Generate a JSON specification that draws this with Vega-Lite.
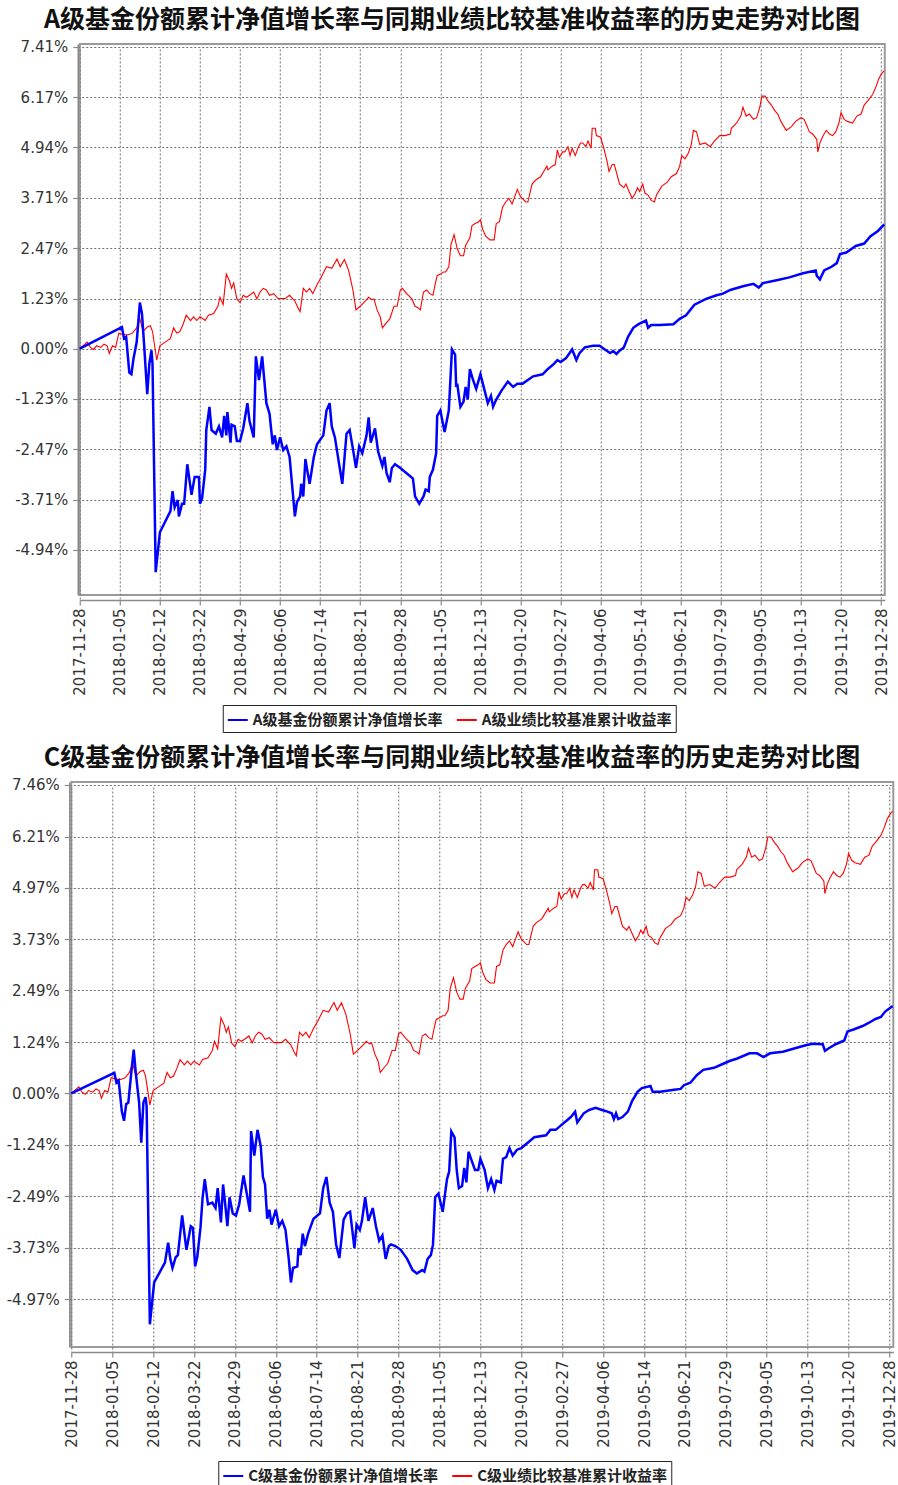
{
"$schema": "https://vega.github.io/schema/vega-lite/v6.json",
"background": "white",
"padding": {"left": 5, "top": 6, "right": 0, "bottom": 0},
"spacing": 10,
"center": true,
"datasets": {
"bench": [
{"d":"2017-11-28","v":0.00},{"d":"2017-12-02","v":0.09},{"d":"2017-12-05","v":0.16},{"d":"2017-12-08","v":0.03},{"d":"2017-12-11","v":-0.02},{"d":"2017-12-14","v":0.07},{"d":"2017-12-18","v":0.03},{"d":"2017-12-21","v":0.11},{"d":"2017-12-24","v":0.07},{"d":"2017-12-26","v":-0.12},{"d":"2017-12-29","v":0.07},{"d":"2018-01-01","v":0.03},{"d":"2018-01-04","v":0.38},{"d":"2018-01-09","v":0.34},{"d":"2018-01-13","v":0.34},{"d":"2018-01-17","v":0.38},{"d":"2018-01-21","v":0.51},{"d":"2018-01-24","v":0.73},{"d":"2018-01-27","v":0.42},{"d":"2018-01-31","v":0.53},{"d":"2018-02-03","v":0.56},{"d":"2018-02-05","v":0.42},{"d":"2018-02-09","v":-0.28},{"d":"2018-02-12","v":0.07},{"d":"2018-02-17","v":0.16},{"d":"2018-02-22","v":0.25},{"d":"2018-02-25","v":0.51},{"d":"2018-02-28","v":0.38},{"d":"2018-03-03","v":0.42},{"d":"2018-03-06","v":0.60},{"d":"2018-03-09","v":0.82},{"d":"2018-03-13","v":0.69},{"d":"2018-03-16","v":0.78},{"d":"2018-03-19","v":0.69},{"d":"2018-03-22","v":0.78},{"d":"2018-03-27","v":0.69},{"d":"2018-03-30","v":0.82},{"d":"2018-04-04","v":0.86},{"d":"2018-04-08","v":1.04},{"d":"2018-04-10","v":1.26},{"d":"2018-04-13","v":1.08},{"d":"2018-04-16","v":1.83},{"d":"2018-04-19","v":1.66},{"d":"2018-04-21","v":1.48},{"d":"2018-04-23","v":1.61},{"d":"2018-04-26","v":1.22},{"d":"2018-04-29","v":1.13},{"d":"2018-05-02","v":1.31},{"d":"2018-05-05","v":1.26},{"d":"2018-05-08","v":1.31},{"d":"2018-05-12","v":1.39},{"d":"2018-05-15","v":1.22},{"d":"2018-05-18","v":1.39},{"d":"2018-05-21","v":1.48},{"d":"2018-05-24","v":1.44},{"d":"2018-05-27","v":1.31},{"d":"2018-05-31","v":1.35},{"d":"2018-06-04","v":1.23},{"d":"2018-06-11","v":1.23},{"d":"2018-06-15","v":1.31},{"d":"2018-06-20","v":1.17},{"d":"2018-06-23","v":1.00},{"d":"2018-06-25","v":0.91},{"d":"2018-06-28","v":1.48},{"d":"2018-07-01","v":1.39},{"d":"2018-07-04","v":1.48},{"d":"2018-07-07","v":1.35},{"d":"2018-07-11","v":1.57},{"d":"2018-07-15","v":1.75},{"d":"2018-07-20","v":2.01},{"d":"2018-07-25","v":1.97},{"d":"2018-07-30","v":2.20},{"d":"2018-08-02","v":2.01},{"d":"2018-08-06","v":2.19},{"d":"2018-08-10","v":1.92},{"d":"2018-08-14","v":1.45},{"d":"2018-08-17","v":0.95},{"d":"2018-08-21","v":1.04},{"d":"2018-08-26","v":1.17},{"d":"2018-08-29","v":1.26},{"d":"2018-09-01","v":1.20},{"d":"2018-09-03","v":1.22},{"d":"2018-09-06","v":0.95},{"d":"2018-09-09","v":0.78},{"d":"2018-09-11","v":0.51},{"d":"2018-09-15","v":0.64},{"d":"2018-09-18","v":0.73},{"d":"2018-09-22","v":1.04},{"d":"2018-09-25","v":1.04},{"d":"2018-09-28","v":1.44},{"d":"2018-09-30","v":1.48},{"d":"2018-10-04","v":1.35},{"d":"2018-10-09","v":1.22},{"d":"2018-10-12","v":1.04},{"d":"2018-10-15","v":1.00},{"d":"2018-10-17","v":0.95},{"d":"2018-10-20","v":1.39},{"d":"2018-10-23","v":1.44},{"d":"2018-10-26","v":1.35},{"d":"2018-10-29","v":1.31},{"d":"2018-10-31","v":1.57},{"d":"2018-11-02","v":1.79},{"d":"2018-11-05","v":1.83},{"d":"2018-11-08","v":1.88},{"d":"2018-11-10","v":1.88},{"d":"2018-11-13","v":2.01},{"d":"2018-11-15","v":2.54},{"d":"2018-11-18","v":2.80},{"d":"2018-11-21","v":2.45},{"d":"2018-11-24","v":2.28},{"d":"2018-11-27","v":2.28},{"d":"2018-11-29","v":2.54},{"d":"2018-12-03","v":2.72},{"d":"2018-12-05","v":3.02},{"d":"2018-12-08","v":3.07},{"d":"2018-12-11","v":3.11},{"d":"2018-12-13","v":3.16},{"d":"2018-12-15","v":2.94},{"d":"2018-12-18","v":2.76},{"d":"2018-12-22","v":2.67},{"d":"2018-12-26","v":2.67},{"d":"2018-12-28","v":3.07},{"d":"2018-12-31","v":3.11},{"d":"2019-01-03","v":3.47},{"d":"2019-01-06","v":3.60},{"d":"2019-01-09","v":3.69},{"d":"2019-01-12","v":3.55},{"d":"2019-01-14","v":3.69},{"d":"2019-01-17","v":3.91},{"d":"2019-01-20","v":3.73},{"d":"2019-01-25","v":3.60},{"d":"2019-01-27","v":3.60},{"d":"2019-01-31","v":4.04},{"d":"2019-02-03","v":4.13},{"d":"2019-02-08","v":4.22},{"d":"2019-02-12","v":4.39},{"d":"2019-02-14","v":4.48},{"d":"2019-02-15","v":4.39},{"d":"2019-02-19","v":4.48},{"d":"2019-02-22","v":4.52},{"d":"2019-02-24","v":4.88},{"d":"2019-02-26","v":4.70},{"d":"2019-03-01","v":4.83},{"d":"2019-03-03","v":4.83},{"d":"2019-03-06","v":4.96},{"d":"2019-03-08","v":4.74},{"d":"2019-03-10","v":4.92},{"d":"2019-03-13","v":4.74},{"d":"2019-03-16","v":4.96},{"d":"2019-03-18","v":5.05},{"d":"2019-03-20","v":5.05},{"d":"2019-03-23","v":4.96},{"d":"2019-03-25","v":5.10},{"d":"2019-03-28","v":4.92},{"d":"2019-03-29","v":5.41},{"d":"2019-04-01","v":5.41},{"d":"2019-04-02","v":5.23},{"d":"2019-04-06","v":5.19},{"d":"2019-04-09","v":4.92},{"d":"2019-04-12","v":4.61},{"d":"2019-04-14","v":4.35},{"d":"2019-04-17","v":4.52},{"d":"2019-04-19","v":4.52},{"d":"2019-04-24","v":4.04},{"d":"2019-04-28","v":3.95},{"d":"2019-04-30","v":4.04},{"d":"2019-05-03","v":3.86},{"d":"2019-05-06","v":3.69},{"d":"2019-05-09","v":3.82},{"d":"2019-05-11","v":3.95},{"d":"2019-05-13","v":3.86},{"d":"2019-05-16","v":4.04},{"d":"2019-05-18","v":3.82},{"d":"2019-05-21","v":3.77},{"d":"2019-05-24","v":3.64},{"d":"2019-05-27","v":3.60},{"d":"2019-05-29","v":3.77},{"d":"2019-06-03","v":3.99},{"d":"2019-06-08","v":4.08},{"d":"2019-06-12","v":4.22},{"d":"2019-06-17","v":4.30},{"d":"2019-06-20","v":4.48},{"d":"2019-06-22","v":4.74},{"d":"2019-06-25","v":4.66},{"d":"2019-06-28","v":4.79},{"d":"2019-07-01","v":5.01},{"d":"2019-07-03","v":5.36},{"d":"2019-07-06","v":5.32},{"d":"2019-07-09","v":5.01},{"d":"2019-07-14","v":5.05},{"d":"2019-07-19","v":4.96},{"d":"2019-07-23","v":5.10},{"d":"2019-07-28","v":5.23},{"d":"2019-08-02","v":5.23},{"d":"2019-08-07","v":5.27},{"d":"2019-08-08","v":5.41},{"d":"2019-08-13","v":5.54},{"d":"2019-08-17","v":5.71},{"d":"2019-08-19","v":5.93},{"d":"2019-08-22","v":5.71},{"d":"2019-08-25","v":5.76},{"d":"2019-08-29","v":5.63},{"d":"2019-09-01","v":5.67},{"d":"2019-09-04","v":5.93},{"d":"2019-09-06","v":6.20},{"d":"2019-09-09","v":6.20},{"d":"2019-09-12","v":6.07},{"d":"2019-09-15","v":5.98},{"d":"2019-09-18","v":5.85},{"d":"2019-09-21","v":5.76},{"d":"2019-09-24","v":5.58},{"d":"2019-09-29","v":5.36},{"d":"2019-10-04","v":5.45},{"d":"2019-10-08","v":5.58},{"d":"2019-10-13","v":5.67},{"d":"2019-10-16","v":5.63},{"d":"2019-10-19","v":5.45},{"d":"2019-10-21","v":5.32},{"d":"2019-10-24","v":5.27},{"d":"2019-10-28","v":5.14},{"d":"2019-10-29","v":4.83},{"d":"2019-10-31","v":5.05},{"d":"2019-11-03","v":5.23},{"d":"2019-11-06","v":5.36},{"d":"2019-11-09","v":5.27},{"d":"2019-11-12","v":5.23},{"d":"2019-11-15","v":5.32},{"d":"2019-11-18","v":5.54},{"d":"2019-11-20","v":5.80},{"d":"2019-11-23","v":5.63},{"d":"2019-11-26","v":5.58},{"d":"2019-12-01","v":5.54},{"d":"2019-12-05","v":5.71},{"d":"2019-12-09","v":5.76},{"d":"2019-12-12","v":5.98},{"d":"2019-12-15","v":6.07},{"d":"2019-12-20","v":6.24},{"d":"2019-12-23","v":6.42},{"d":"2019-12-26","v":6.64},{"d":"2019-12-29","v":6.77},{"d":"2019-12-31","v":6.82}
],
"a": [
{"d":"2017-11-28","v":0.00},{"d":"2018-01-07","v":0.53},{"d":"2018-01-09","v":0.25},{"d":"2018-01-11","v":0.29},{"d":"2018-01-14","v":-0.59},{"d":"2018-01-16","v":-0.63},{"d":"2018-01-18","v":-0.24},{"d":"2018-01-21","v":0.16},{"d":"2018-01-24","v":1.13},{"d":"2018-01-26","v":0.86},{"d":"2018-01-28","v":0.11},{"d":"2018-01-31","v":-1.12},{"d":"2018-02-02","v":-0.37},{"d":"2018-02-04","v":-0.04},{"d":"2018-02-05","v":-0.37},{"d":"2018-02-08","v":-5.49},{"d":"2018-02-12","v":-4.51},{"d":"2018-02-22","v":-3.99},{"d":"2018-02-24","v":-3.50},{"d":"2018-02-26","v":-3.90},{"d":"2018-03-01","v":-3.72},{"d":"2018-03-02","v":-4.12},{"d":"2018-03-05","v":-3.81},{"d":"2018-03-07","v":-3.81},{"d":"2018-03-10","v":-2.84},{"d":"2018-03-14","v":-3.59},{"d":"2018-03-17","v":-3.15},{"d":"2018-03-21","v":-3.15},{"d":"2018-03-22","v":-3.81},{"d":"2018-03-24","v":-3.68},{"d":"2018-03-27","v":-2.97},{"d":"2018-03-28","v":-2.00},{"d":"2018-03-31","v":-1.43},{"d":"2018-04-02","v":-2.00},{"d":"2018-04-06","v":-2.09},{"d":"2018-04-09","v":-1.91},{"d":"2018-04-12","v":-2.18},{"d":"2018-04-14","v":-1.65},{"d":"2018-04-16","v":-2.13},{"d":"2018-04-17","v":-1.56},{"d":"2018-04-20","v":-2.31},{"d":"2018-04-21","v":-1.87},{"d":"2018-04-24","v":-1.91},{"d":"2018-04-26","v":-2.27},{"d":"2018-04-29","v":-2.27},{"d":"2018-05-02","v":-1.96},{"d":"2018-05-06","v":-1.34},{"d":"2018-05-08","v":-1.78},{"d":"2018-05-12","v":-2.18},{"d":"2018-05-14","v":-0.19},{"d":"2018-05-17","v":-0.77},{"d":"2018-05-20","v":-0.19},{"d":"2018-05-24","v":-1.34},{"d":"2018-05-27","v":-1.60},{"d":"2018-05-30","v":-2.35},{"d":"2018-06-01","v":-2.13},{"d":"2018-06-03","v":-2.49},{"d":"2018-06-06","v":-2.18},{"d":"2018-06-09","v":-2.49},{"d":"2018-06-12","v":-2.40},{"d":"2018-06-15","v":-2.66},{"d":"2018-06-19","v":-3.81},{"d":"2018-06-20","v":-4.12},{"d":"2018-06-22","v":-3.77},{"d":"2018-06-25","v":-3.63},{"d":"2018-06-26","v":-3.32},{"d":"2018-06-28","v":-3.63},{"d":"2018-06-30","v":-2.71},{"d":"2018-07-02","v":-3.02},{"d":"2018-07-04","v":-3.32},{"d":"2018-07-08","v":-2.66},{"d":"2018-07-11","v":-2.35},{"d":"2018-07-17","v":-2.13},{"d":"2018-07-20","v":-1.52},{"d":"2018-07-23","v":-1.34},{"d":"2018-07-25","v":-1.91},{"d":"2018-07-28","v":-2.18},{"d":"2018-08-01","v":-2.84},{"d":"2018-08-04","v":-3.32},{"d":"2018-08-08","v":-2.09},{"d":"2018-08-11","v":-2.00},{"d":"2018-08-14","v":-2.45},{"d":"2018-08-17","v":-2.93},{"d":"2018-08-20","v":-2.40},{"d":"2018-08-23","v":-2.57},{"d":"2018-08-25","v":-2.35},{"d":"2018-08-27","v":-2.13},{"d":"2018-08-29","v":-1.69},{"d":"2018-08-31","v":-2.31},{"d":"2018-09-04","v":-1.96},{"d":"2018-09-07","v":-2.53},{"d":"2018-09-11","v":-2.88},{"d":"2018-09-13","v":-2.66},{"d":"2018-09-15","v":-3.06},{"d":"2018-09-18","v":-3.28},{"d":"2018-09-20","v":-2.93},{"d":"2018-09-23","v":-2.84},{"d":"2018-09-28","v":-2.93},{"d":"2018-10-04","v":-3.06},{"d":"2018-10-10","v":-3.19},{"d":"2018-10-12","v":-3.63},{"d":"2018-10-16","v":-3.81},{"d":"2018-10-20","v":-3.63},{"d":"2018-10-22","v":-3.46},{"d":"2018-10-25","v":-3.50},{"d":"2018-10-26","v":-3.15},{"d":"2018-10-29","v":-2.97},{"d":"2018-11-01","v":-2.57},{"d":"2018-11-02","v":-1.65},{"d":"2018-11-05","v":-1.52},{"d":"2018-11-09","v":-2.05},{"d":"2018-11-13","v":-1.52},{"d":"2018-11-14","v":-1.03},{"d":"2018-11-16","v":-0.02},{"d":"2018-11-19","v":-0.15},{"d":"2018-11-20","v":-0.94},{"d":"2018-11-21","v":-0.86},{"d":"2018-11-24","v":-1.43},{"d":"2018-11-27","v":-1.30},{"d":"2018-11-29","v":-0.94},{"d":"2018-12-01","v":-1.25},{"d":"2018-12-03","v":-0.50},{"d":"2018-12-06","v":-0.77},{"d":"2018-12-09","v":-0.99},{"d":"2018-12-13","v":-0.63},{"d":"2018-12-17","v":-1.03},{"d":"2018-12-20","v":-1.34},{"d":"2018-12-23","v":-1.16},{"d":"2018-12-25","v":-1.43},{"d":"2018-12-28","v":-1.25},{"d":"2019-01-02","v":-1.03},{"d":"2019-01-08","v":-0.81},{"d":"2019-01-13","v":-0.94},{"d":"2019-01-17","v":-0.86},{"d":"2019-01-22","v":-0.86},{"d":"2019-02-01","v":-0.68},{"d":"2019-02-10","v":-0.63},{"d":"2019-02-15","v":-0.50},{"d":"2019-02-21","v":-0.37},{"d":"2019-02-24","v":-0.28},{"d":"2019-02-27","v":-0.33},{"d":"2019-03-04","v":-0.24},{"d":"2019-03-10","v":-0.02},{"d":"2019-03-14","v":-0.28},{"d":"2019-03-17","v":-0.11},{"d":"2019-03-22","v":0.03},{"d":"2019-03-30","v":0.07},{"d":"2019-04-05","v":0.07},{"d":"2019-04-10","v":-0.02},{"d":"2019-04-15","v":-0.11},{"d":"2019-04-18","v":-0.06},{"d":"2019-04-21","v":-0.13},{"d":"2019-04-24","v":-0.05},{"d":"2019-04-28","v":0.03},{"d":"2019-05-02","v":0.29},{"d":"2019-05-07","v":0.51},{"d":"2019-05-12","v":0.60},{"d":"2019-05-19","v":0.69},{"d":"2019-05-21","v":0.51},{"d":"2019-05-24","v":0.58},{"d":"2019-06-01","v":0.58},{"d":"2019-06-14","v":0.60},{"d":"2019-06-20","v":0.73},{"d":"2019-06-26","v":0.82},{"d":"2019-07-04","v":1.08},{"d":"2019-07-15","v":1.22},{"d":"2019-07-25","v":1.31},{"d":"2019-07-31","v":1.35},{"d":"2019-08-07","v":1.44},{"d":"2019-08-19","v":1.53},{"d":"2019-08-29","v":1.59},{"d":"2019-09-03","v":1.50},{"d":"2019-09-07","v":1.61},{"d":"2019-09-20","v":1.68},{"d":"2019-10-02","v":1.75},{"d":"2019-10-15","v":1.85},{"d":"2019-10-27","v":1.92},{"d":"2019-10-28","v":1.79},{"d":"2019-10-31","v":1.70},{"d":"2019-11-04","v":1.92},{"d":"2019-11-11","v":2.01},{"d":"2019-11-16","v":2.10},{"d":"2019-11-19","v":2.32},{"d":"2019-11-25","v":2.36},{"d":"2019-12-04","v":2.52},{"d":"2019-12-12","v":2.58},{"d":"2019-12-18","v":2.76},{"d":"2019-12-25","v":2.89},{"d":"2019-12-31","v":3.05}
],
"c": [
{"d":"2017-11-28","v":0.00},{"d":"2018-01-07","v":0.50},{"d":"2018-01-09","v":0.26},{"d":"2018-01-11","v":0.31},{"d":"2018-01-14","v":-0.44},{"d":"2018-01-16","v":-0.66},{"d":"2018-01-18","v":-0.26},{"d":"2018-01-20","v":-0.22},{"d":"2018-01-23","v":0.57},{"d":"2018-01-25","v":1.06},{"d":"2018-01-27","v":0.48},{"d":"2018-01-30","v":-0.22},{"d":"2018-02-01","v":-1.19},{"d":"2018-02-03","v":-0.22},{"d":"2018-02-05","v":-0.09},{"d":"2018-02-06","v":-0.31},{"d":"2018-02-09","v":-5.58},{"d":"2018-02-13","v":-4.57},{"d":"2018-02-23","v":-4.09},{"d":"2018-02-26","v":-3.61},{"d":"2018-02-28","v":-4.00},{"d":"2018-03-02","v":-4.22},{"d":"2018-03-05","v":-3.96},{"d":"2018-03-07","v":-3.91},{"d":"2018-03-11","v":-2.95},{"d":"2018-03-15","v":-3.78},{"d":"2018-03-19","v":-3.21},{"d":"2018-03-21","v":-3.25},{"d":"2018-03-23","v":-4.18},{"d":"2018-03-25","v":-3.96},{"d":"2018-03-28","v":-3.25},{"d":"2018-03-30","v":-2.51},{"d":"2018-04-01","v":-2.07},{"d":"2018-04-04","v":-2.68},{"d":"2018-04-08","v":-2.64},{"d":"2018-04-11","v":-2.77},{"d":"2018-04-13","v":-2.29},{"d":"2018-04-16","v":-3.12},{"d":"2018-04-18","v":-2.20},{"d":"2018-04-20","v":-2.68},{"d":"2018-04-22","v":-3.21},{"d":"2018-04-24","v":-2.51},{"d":"2018-04-27","v":-2.90},{"d":"2018-04-30","v":-2.95},{"d":"2018-05-03","v":-2.68},{"d":"2018-05-07","v":-1.98},{"d":"2018-05-10","v":-2.42},{"d":"2018-05-13","v":-2.86},{"d":"2018-05-14","v":-0.91},{"d":"2018-05-17","v":-1.50},{"d":"2018-05-20","v":-0.88},{"d":"2018-05-23","v":-1.28},{"d":"2018-05-25","v":-2.02},{"d":"2018-05-27","v":-2.20},{"d":"2018-05-29","v":-3.03},{"d":"2018-05-31","v":-2.81},{"d":"2018-06-02","v":-3.17},{"d":"2018-06-06","v":-2.81},{"d":"2018-06-09","v":-3.21},{"d":"2018-06-12","v":-3.08},{"d":"2018-06-15","v":-3.30},{"d":"2018-06-18","v":-4.00},{"d":"2018-06-20","v":-4.57},{"d":"2018-06-22","v":-4.22},{"d":"2018-06-26","v":-4.18},{"d":"2018-06-27","v":-3.74},{"d":"2018-06-29","v":-3.91},{"d":"2018-07-01","v":-3.39},{"d":"2018-07-03","v":-3.69},{"d":"2018-07-06","v":-3.39},{"d":"2018-07-09","v":-3.17},{"d":"2018-07-11","v":-3.03},{"d":"2018-07-17","v":-2.90},{"d":"2018-07-20","v":-2.29},{"d":"2018-07-23","v":-2.02},{"d":"2018-07-26","v":-2.64},{"d":"2018-07-29","v":-2.86},{"d":"2018-08-01","v":-3.65},{"d":"2018-08-04","v":-3.98},{"d":"2018-08-08","v":-3.05},{"d":"2018-08-11","v":-2.90},{"d":"2018-08-14","v":-2.86},{"d":"2018-08-16","v":-3.30},{"d":"2018-08-18","v":-3.74},{"d":"2018-08-20","v":-3.17},{"d":"2018-08-23","v":-3.30},{"d":"2018-08-25","v":-3.08},{"d":"2018-08-28","v":-2.51},{"d":"2018-08-31","v":-3.08},{"d":"2018-09-04","v":-2.77},{"d":"2018-09-07","v":-3.21},{"d":"2018-09-10","v":-3.56},{"d":"2018-09-13","v":-3.43},{"d":"2018-09-16","v":-4.00},{"d":"2018-09-19","v":-3.69},{"d":"2018-09-21","v":-3.65},{"d":"2018-09-25","v":-3.69},{"d":"2018-09-30","v":-3.78},{"d":"2018-10-06","v":-4.00},{"d":"2018-10-11","v":-4.27},{"d":"2018-10-15","v":-4.35},{"d":"2018-10-20","v":-4.27},{"d":"2018-10-22","v":-4.31},{"d":"2018-10-25","v":-4.00},{"d":"2018-10-28","v":-3.91},{"d":"2018-10-30","v":-3.65},{"d":"2018-11-01","v":-2.51},{"d":"2018-11-04","v":-2.42},{"d":"2018-11-08","v":-2.86},{"d":"2018-11-12","v":-2.07},{"d":"2018-11-14","v":-1.89},{"d":"2018-11-16","v":-0.92},{"d":"2018-11-19","v":-1.06},{"d":"2018-11-21","v":-1.85},{"d":"2018-11-23","v":-2.29},{"d":"2018-11-26","v":-2.24},{"d":"2018-11-28","v":-1.80},{"d":"2018-11-30","v":-2.15},{"d":"2018-12-02","v":-1.41},{"d":"2018-12-05","v":-1.63},{"d":"2018-12-08","v":-1.85},{"d":"2018-12-11","v":-1.85},{"d":"2018-12-13","v":-1.58},{"d":"2018-12-17","v":-1.85},{"d":"2018-12-20","v":-2.29},{"d":"2018-12-23","v":-2.07},{"d":"2018-12-26","v":-2.33},{"d":"2018-12-28","v":-2.11},{"d":"2019-01-01","v":-2.15},{"d":"2019-01-03","v":-1.58},{"d":"2019-01-06","v":-1.54},{"d":"2019-01-09","v":-1.32},{"d":"2019-01-12","v":-1.50},{"d":"2019-01-16","v":-1.36},{"d":"2019-01-20","v":-1.32},{"d":"2019-01-26","v":-1.19},{"d":"2019-02-01","v":-1.06},{"d":"2019-02-12","v":-1.01},{"d":"2019-02-16","v":-0.88},{"d":"2019-02-21","v":-0.88},{"d":"2019-02-25","v":-0.79},{"d":"2019-03-03","v":-0.66},{"d":"2019-03-07","v":-0.57},{"d":"2019-03-11","v":-0.44},{"d":"2019-03-13","v":-0.70},{"d":"2019-03-19","v":-0.48},{"d":"2019-03-24","v":-0.40},{"d":"2019-03-30","v":-0.35},{"d":"2019-04-05","v":-0.40},{"d":"2019-04-10","v":-0.44},{"d":"2019-04-14","v":-0.48},{"d":"2019-04-16","v":-0.62},{"d":"2019-04-18","v":-0.48},{"d":"2019-04-20","v":-0.62},{"d":"2019-04-24","v":-0.57},{"d":"2019-04-29","v":-0.44},{"d":"2019-05-03","v":-0.18},{"d":"2019-05-08","v":0.04},{"d":"2019-05-12","v":0.13},{"d":"2019-05-20","v":0.18},{"d":"2019-05-22","v":0.04},{"d":"2019-05-29","v":0.04},{"d":"2019-06-11","v":0.09},{"d":"2019-06-17","v":0.11},{"d":"2019-06-20","v":0.20},{"d":"2019-06-26","v":0.26},{"d":"2019-07-02","v":0.44},{"d":"2019-07-08","v":0.57},{"d":"2019-07-18","v":0.62},{"d":"2019-07-25","v":0.70},{"d":"2019-08-02","v":0.79},{"d":"2019-08-08","v":0.84},{"d":"2019-08-20","v":0.97},{"d":"2019-08-27","v":0.97},{"d":"2019-09-02","v":0.88},{"d":"2019-09-08","v":0.97},{"d":"2019-09-20","v":1.01},{"d":"2019-10-02","v":1.10},{"d":"2019-10-12","v":1.17},{"d":"2019-10-18","v":1.20},{"d":"2019-10-27","v":1.19},{"d":"2019-10-29","v":1.03},{"d":"2019-11-02","v":1.10},{"d":"2019-11-08","v":1.19},{"d":"2019-11-16","v":1.28},{"d":"2019-11-19","v":1.50},{"d":"2019-11-24","v":1.54},{"d":"2019-12-03","v":1.63},{"d":"2019-12-09","v":1.71},{"d":"2019-12-15","v":1.80},{"d":"2019-12-20","v":1.85},{"d":"2019-12-24","v":1.98},{"d":"2019-12-29","v":2.08},{"d":"2019-12-31","v":2.11}
]
},
"vconcat": [
{
"title": {"text": "A级基金份额累计净值增长率与同期业绩比较基准收益率的历史走势对比图"},
"width": 805,
"height": 551,
"layer": [
{
"data": {"name": "bench"},
"mark": {"type": "line", "strokeWidth": 1.1},
"encoding": {
"x": {"field": "d", "type": "temporal", "scale": {"type": "utc", "domain": [{"year": 2017, "month": 11, "date": 28, "utc": true}, {"year": 2019, "month": 12, "date": 31, "hours": 12, "utc": true}]}, "axis": {"title": null, "labelExpr": "utcFormat(datum.value, '%Y-%m-%d')", "values": [{"year":2017,"month":11,"date":28,"utc":true},{"year":2018,"month":1,"date":5,"utc":true},{"year":2018,"month":2,"date":12,"utc":true},{"year":2018,"month":3,"date":22,"utc":true},{"year":2018,"month":4,"date":29,"utc":true},{"year":2018,"month":6,"date":6,"utc":true},{"year":2018,"month":7,"date":14,"utc":true},{"year":2018,"month":8,"date":21,"utc":true},{"year":2018,"month":9,"date":28,"utc":true},{"year":2018,"month":11,"date":5,"utc":true},{"year":2018,"month":12,"date":13,"utc":true},{"year":2019,"month":1,"date":20,"utc":true},{"year":2019,"month":2,"date":27,"utc":true},{"year":2019,"month":4,"date":6,"utc":true},{"year":2019,"month":5,"date":14,"utc":true},{"year":2019,"month":6,"date":21,"utc":true},{"year":2019,"month":7,"date":29,"utc":true},{"year":2019,"month":9,"date":5,"utc":true},{"year":2019,"month":10,"date":13,"utc":true},{"year":2019,"month":11,"date":20,"utc":true},{"year":2019,"month":12,"date":28,"utc":true}]}},
"y": {"field": "v", "type": "quantitative", "scale": {"domain": [-6.05, 7.48], "nice": false, "zero": false}, "axis": {"title": null, "values": [-4.94, -3.71, -2.47, -1.23, 0, 1.23, 2.47, 3.71, 4.94, 6.17, 7.41], "labelExpr": "(datum.value < 0 ? '-' : '') + format(abs(datum.value), '.2f') + '%'"}},
"color": {"datum": "A级业绩比较基准累计收益率", "type": "nominal", "scale": {"domain": ["A级基金份额累计净值增长率", "A级业绩比较基准累计收益率"], "range": ["#0000ff", "#ff0000"]}, "legend": {"orient": "none", "legendX": 143, "legendY": 661, "direction": "horizontal", "title": null}}
}
},
{
"data": {"name": "a"},
"mark": {"type": "line", "strokeWidth": 2.5},
"encoding": {
"x": {"field": "d", "type": "temporal"},
"y": {"field": "v", "type": "quantitative"},
"color": {"datum": "A级基金份额累计净值增长率", "type": "nominal"}
}
}
]
},
{
"title": {"text": "C级基金份额累计净值增长率与同期业绩比较基准收益率的历史走势对比图"},
"width": 822,
"height": 565,
"layer": [
{
"data": {"name": "bench"},
"mark": {"type": "line", "strokeWidth": 1.1},
"encoding": {
"x": {"field": "d", "type": "temporal", "scale": {"type": "utc", "domain": [{"year": 2017, "month": 11, "date": 28, "utc": true}, {"year": 2019, "month": 12, "date": 31, "hours": 12, "utc": true}]}, "axis": {"title": null, "labelExpr": "utcFormat(datum.value, '%Y-%m-%d')", "values": [{"year":2017,"month":11,"date":28,"utc":true},{"year":2018,"month":1,"date":5,"utc":true},{"year":2018,"month":2,"date":12,"utc":true},{"year":2018,"month":3,"date":22,"utc":true},{"year":2018,"month":4,"date":29,"utc":true},{"year":2018,"month":6,"date":6,"utc":true},{"year":2018,"month":7,"date":14,"utc":true},{"year":2018,"month":8,"date":21,"utc":true},{"year":2018,"month":9,"date":28,"utc":true},{"year":2018,"month":11,"date":5,"utc":true},{"year":2018,"month":12,"date":13,"utc":true},{"year":2019,"month":1,"date":20,"utc":true},{"year":2019,"month":2,"date":27,"utc":true},{"year":2019,"month":4,"date":6,"utc":true},{"year":2019,"month":5,"date":14,"utc":true},{"year":2019,"month":6,"date":21,"utc":true},{"year":2019,"month":7,"date":29,"utc":true},{"year":2019,"month":9,"date":5,"utc":true},{"year":2019,"month":10,"date":13,"utc":true},{"year":2019,"month":11,"date":20,"utc":true},{"year":2019,"month":12,"date":28,"utc":true}]}},
"y": {"field": "v", "type": "quantitative", "scale": {"domain": [-6.13, 7.53], "nice": false, "zero": false}, "axis": {"title": null, "values": [-4.97, -3.73, -2.49, -1.24, 0, 1.24, 2.49, 3.73, 4.97, 6.21, 7.46], "labelExpr": "(datum.value < 0 ? '-' : '') + format(abs(datum.value), '.2f') + '%'"}},
"color": {"datum": "C级业绩比较基准累计收益率", "type": "nominal", "scale": {"domain": ["C级基金份额累计净值增长率", "C级业绩比较基准累计收益率"], "range": ["#0000ff", "#ff0000"]}, "legend": {"orient": "none", "legendX": 147, "legendY": 679, "direction": "horizontal", "title": null}}
}
},
{
"data": {"name": "c"},
"mark": {"type": "line", "strokeWidth": 2.5},
"encoding": {
"x": {"field": "d", "type": "temporal"},
"y": {"field": "v", "type": "quantitative"},
"color": {"datum": "C级基金份额累计净值增长率", "type": "nominal"}
}
}
]
}
],
"resolve": {"scale": {"color": "independent", "x": "independent", "y": "independent"}, "legend": {"color": "independent"}},
"config": {
"font": "DejaVu Sans",
"view": {"stroke": "#9a9a9a", "strokeWidth": 2},
"axis": {"labelFont": "DejaVu Sans", "labelFontSize": 15, "labelColor": "#333333", "domainColor": "#8a8a8a", "domainWidth": 1.5, "tickColor": "#8a8a8a", "tickSize": 5, "tickWidth": 1.2, "gridColor": "#707070", "gridDash": [2, 2], "gridWidth": 1, "gridOpacity": 1, "labelPadding": 5},
"axisX": {"offset": 5, "labelAngle": -90, "labelPadding": 3},
"axisY": {"offset": 2},
"title": {"font": "Noto Sans CJK SC", "fontSize": 25, "fontWeight": "bold", "color": "#111111", "anchor": "middle", "frame": "bounds", "offset": 7},
"legend": {"symbolType": "stroke", "symbolSize": 400, "symbolStrokeWidth": 2, "labelFont": "Noto Sans CJK SC", "labelFontSize": 15, "labelFontWeight": "bold", "labelColor": "#222222", "strokeColor": "#222222", "padding": 4, "columnPadding": 10, "labelOffset": 4, "labelLimit": 400}
}
}
